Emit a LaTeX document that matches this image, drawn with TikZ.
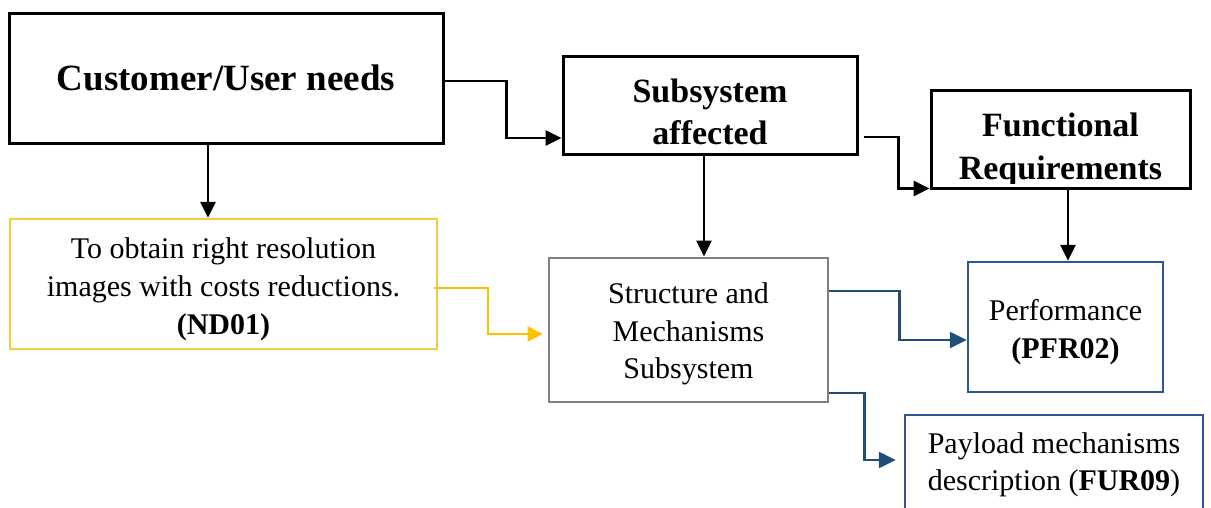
\documentclass[tikz,border=0pt]{standalone}
\usepackage{fontspec}
\setmainfont{Liberation Serif}
\usetikzlibrary{arrows.meta}

\definecolor{ylwline}{HTML}{F9CB3A}
\definecolor{ylwarrow}{HTML}{FFC000}
\definecolor{blueline}{HTML}{2F5597}
\definecolor{bluearrow}{HTML}{1F4E79}
\definecolor{greyline}{HTML}{808080}

\tikzset{
  box/.style={rectangle, inner sep=0pt, align=center},
  headbox/.style={box, draw=black, line width=3pt},
  headtext/.style={box, font=\bfseries\fontsize{34}{42}\selectfont},
  bodytext/.style={box, font=\fontsize{30}{37.5}\selectfont},
  ylwbox/.style={box, draw=ylwline, line width=2.4pt},
  greybox/.style={box, draw=greyline, line width=2.8pt},
  bluebox/.style={box, draw=blueline, line width=2.4pt},
  blkarrow/.style={draw=black, line width=2.8pt,
    -{Triangle[length=16pt,width=15pt]}},
  ylwarrowline/.style={draw=ylwarrow, line width=2.4pt,
    -{Triangle[length=15pt,width=15pt]}},
  bluearrowline/.style={draw=bluearrow, line width=2.4pt,
    -{Triangle[length=17pt,width=16pt]}},
}

\begin{document}
\begin{tikzpicture}[x=1pt, y=-1pt]
  \useasboundingbox (0,0) rectangle (1211,507);
  \clip (0,0) rectangle (1211,507);

  % top row: needs, affected subsystem, functional requirements
  \node[headbox, minimum width=434pt, minimum height=130pt] (cust) at (226,78) {};
  \node[box, font=\bfseries\fontsize{37}{44}\selectfont] (custtxt) at (226,78)
       {Customer/User needs};

  \node[headbox, minimum width=294pt, minimum height=98pt] (subsys) at (710,105) {};
  \node[headtext] (subsystxt) at (710,111.5) {Subsystem\\affected};

  \begin{scope}
    \clip (931,90) rectangle (1190,183);
    \node[headtext, font=\bfseries\fontsize{34}{43}\selectfont] (functxt) at (1060.5,150)
         {Functional\\Requirements};
  \end{scope}
  \node[headbox, minimum width=259pt, minimum height=98pt] (func) at (1060.5,139) {};

  % second row
  \node[ylwbox, minimum width=427pt, minimum height=130pt] (need) at (223.5,284) {};
  \node[bodytext, font=\fontsize{30}{38}\selectfont] (needtxt) at (223.5,289.5)
       {To obtain right resolution\\images with costs reductions.\\\textbf{(ND01)}};

  \node[greybox, minimum width=279pt, minimum height=144pt] (sms) at (688.5,330) {};
  \node[bodytext] (smstxt) at (688.5,334) {Structure and\\Mechanisms\\Subsystem};

  \node[bluebox, minimum width=195pt, minimum height=130pt] (perf) at (1065.5,327) {};
  \node[bodytext] (perftxt) at (1065.5,332) {Performance\\\textbf{(PFR02)}};

  \node[bluebox, minimum width=298pt, minimum height=116pt] (payload) at (1054,473) {};
  \node[bodytext] (payloadtxt) at (1054,465)
       {Payload mechanisms\\description (\textbf{FUR09})};

  % connectors
  \draw[blkarrow] ([yshift=-3pt]cust.east) -- ++(62,0)
        |- ([yshift=-33pt]subsys.west);
  \draw[blkarrow] ([xshift=5pt,yshift=-32pt]subsys.east) -- ++(35,0)
        |- ([yshift=1pt]func.south west);
  \draw[blkarrow] ([xshift=-18pt]cust.south) -- ([xshift=-18pt]cust.south |- need.north);
  \draw[blkarrow] ([xshift=-6pt]subsys.south) -- ([xshift=-6pt]subsys.south |- sms.north);
  \draw[blkarrow] ([xshift=7.5pt]func.south) -- ([xshift=7.5pt]func.south |- perf.north);
  \draw[ylwarrowline, shorten >=5pt] ([xshift=-4pt,yshift=-4pt]need.east) -- ++(54,0)
        |- ([yshift=-4pt]sms.west);
  \draw[bluearrowline] ([yshift=39pt]sms.east) -- ++(70,0)
        |- ([yshift=-13pt]perf.west);
  \draw[bluearrowline, shorten >=8pt] ([yshift=-63pt]sms.east) -- ++(35,0)
        |- ([yshift=13pt]payload.west);
\end{tikzpicture}
\end{document}
